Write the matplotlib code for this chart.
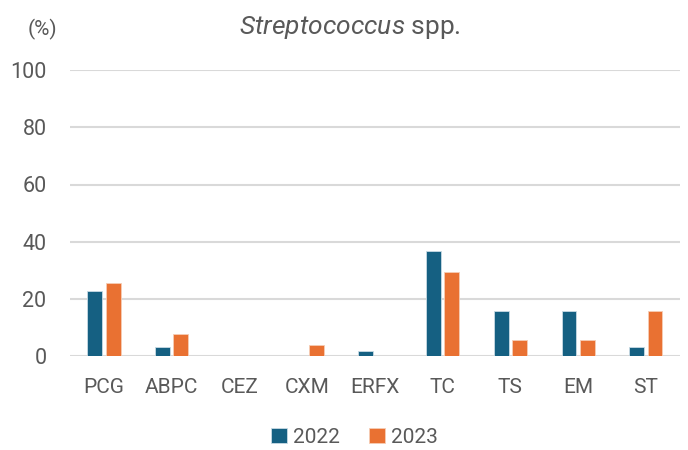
import matplotlib
matplotlib.use("Agg")
import matplotlib.pyplot as plt
import numpy as np

categories = ["PCG", "ABPC", "CEZ", "CXM", "ERFX", "TC", "TS", "EM", "ST"]
v2022 = [22.6, 3.2, 0, 0, 1.6, 36.7, 15.6, 15.6, 3.2]
v2023 = [25.4, 7.6, 0, 3.7, 0, 29.3, 5.7, 5.7, 15.6]
series_labels = ["2022", "2023"]
yticks = [0, 20, 40, 60, 80, 100]

plt.rcParams['font.family'] = ['Roboto', 'DejaVu Sans']
plt.rcParams['mathtext.fontset'] = 'custom'
plt.rcParams['mathtext.it'] = 'Roboto:italic'
plt.rcParams['mathtext.rm'] = 'Roboto'

gray = "#595959"
c1, c2 = "#156082", "#E97132"

fig = plt.figure(figsize=(6.88, 4.5), dpi=100)
ax = fig.add_axes([0.102, 0.209, 0.886, 0.635])

x = np.arange(len(categories))
w = 0.22
gap = 0.05
ax.bar(x - (w + gap) / 2, v2022, w, color=c1, edgecolor="#c9dbe4", linewidth=0.6, label=series_labels[0], zorder=3)
ax.bar(x + (w + gap) / 2, v2023, w, color=c2, edgecolor="#f6cdb5", linewidth=0.6, label=series_labels[1], zorder=3)

ax.set_xlim(-0.5, len(categories) - 0.5)
ax.set_ylim(0, 100)
ax.set_yticks(yticks)
ax.set_xticks(x)
ax.set_xticklabels(categories)
ax.tick_params(axis='both', length=0, labelsize=15, colors=gray)
ax.tick_params(axis='y', pad=17)
ax.tick_params(axis='x', pad=16)
for lbl in ax.get_yticklabels():
    lbl.set_fontsize(15.5)
ax.grid(axis='y', color="#d9d9d9", linewidth=1.5, zorder=0)
for s in ax.spines.values():
    s.set_visible(False)

fig.text(0.508, 0.938, r"$\it{Streptococcus}$ spp.", ha='center', va='center', fontsize=19, color=gray)
fig.text(0.062, 0.935, "(%)", ha='center', va='center', fontsize=15, color=gray)

leg = fig.legend(loc='center', bbox_to_anchor=(0.515, 0.028), ncol=2, frameon=False,
                 fontsize=15, handlelength=0.75, handleheight=0.75, handletextpad=0.3,
                 columnspacing=1.4, labelcolor=gray)

fig.savefig("out.png", dpi=100)
